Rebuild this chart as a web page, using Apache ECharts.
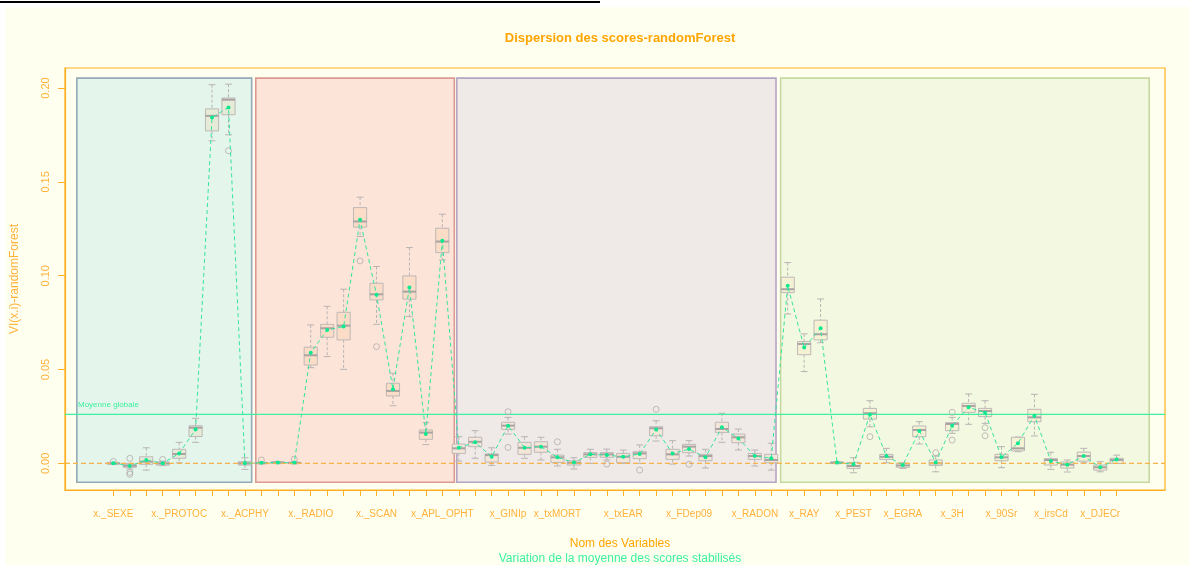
<!DOCTYPE html>
<html>
<head>
<meta charset="utf-8">
<script src="https://cdn.jsdelivr.net/npm/echarts@6/dist/echarts.min.js"></script>
<style>
html,body{margin:0;padding:0;background:#ffffff;}
#c{width:1189px;height:565px;}
</style>
</head>
<body>
<div id="c"></div>
<script>
// ---------- data ----------
const categories = ['x._SEXE','','','','x._PROTOC','','','','x._ACPHY','','','','x._RADIO','','','','x._SCAN','','','','x_APL_OPHT',
  '','','','x_GINIp','','','x_txMORT','','','','x_txEAR','','','','x_FDep09','','','','x_RADON','',
  '','x_RAY','','','x_PEST','','','x_EGRA','','','x_3H','','','x_90Sr','','','x_irsCd','','','x_DJECr',''];
const whiskLow = [-0.0005,-0.0030,-0.0036,-0.0012,0.0003,0.0112,0.1719,0.1751,-0.0032,
  -0.0003,-0.0002,-0.0003,0.0510,0.0569,0.0501,0.1209,0.0741,0.0307,0.0782,0.0100,0.1084,
  0.0012,0.0027,-0.0011,0.0156,0.0027,0.0018,-0.0014,-0.0030,0.0000,0.0018,0.0000,0.0000,0.0119,-0.0004,0.0039,-0.0025,0.0112,0.0071,-0.0014,-0.0036,
  0.0796,0.0489,0.0643,-0.0002,-0.0050,0.0195,0.0003,-0.0027,0.0103,-0.0045,0.0160,0.0208,0.0213,-0.0023,0.0062,0.0146,-0.0032,-0.0046,0.0003,-0.0045,0.0000];
const q1 = [-0.0003,-0.0021,-0.0005,-0.0009,0.0027,0.0143,0.1772,0.1858,-0.0009,
  -0.0002,0.0000,-0.0001,0.0524,0.0672,0.0658,0.1259,0.0871,0.0359,0.0875,0.0128,0.1123,
  0.0053,0.0089,0.0007,0.0181,0.0048,0.0059,0.0005,-0.0009,0.0032,0.0032,0.0003,0.0025,0.0147,0.0021,0.0057,0.0014,0.0165,0.0110,0.0021,0.0003,
  0.0910,0.0579,0.0658,0.0000,-0.0027,0.0236,0.0021,-0.0021,0.0142,-0.0011,0.0174,0.0272,0.0249,0.0014,0.0067,0.0222,-0.0009,-0.0025,0.0012,-0.0036,0.0000];
const median = [0.0000,-0.0013,0.0009,0.0000,0.0050,0.0190,0.1852,0.1938,0.0000,
  0.0002,0.0004,0.0002,0.0576,0.0720,0.0734,0.1289,0.0901,0.0386,0.0915,0.0164,0.1182,
  0.0080,0.0115,0.0044,0.0201,0.0083,0.0089,0.0032,0.0003,0.0048,0.0048,0.0035,0.0053,0.0187,0.0048,0.0089,0.0039,0.0183,0.0139,0.0039,0.0018,
  0.0928,0.0636,0.0688,0.0003,-0.0014,0.0267,0.0035,-0.0011,0.0178,0.0000,0.0210,0.0306,0.0279,0.0032,0.0080,0.0245,0.0018,-0.0007,0.0039,-0.0021,0.0018];
const q3 = [0.0002,-0.0005,0.0035,0.0007,0.0075,0.0200,0.1889,0.1947,0.0009,
  0.0005,0.0008,0.0006,0.0619,0.0741,0.0805,0.1363,0.0960,0.0427,0.0999,0.0178,0.1253,
  0.0103,0.0139,0.0050,0.0219,0.0112,0.0115,0.0044,0.0014,0.0057,0.0057,0.0053,0.0062,0.0195,0.0075,0.0101,0.0048,0.0219,0.0156,0.0053,0.0048,
  0.0992,0.0649,0.0763,0.0007,0.0005,0.0293,0.0048,0.0000,0.0199,0.0018,0.0217,0.0320,0.0293,0.0048,0.0139,0.0288,0.0025,0.0007,0.0060,-0.0009,0.0027];
const whiskHigh = [0.0006,0.0000,0.0083,0.0012,0.0112,0.0240,0.2018,0.2021,0.0030,
  0.0007,0.0010,0.0008,0.0738,0.0837,0.0928,0.1419,0.1049,0.0480,0.1150,0.0217,0.1328,
  0.0142,0.0174,0.0083,0.0245,0.0142,0.0139,0.0075,0.0030,0.0075,0.0076,0.0071,0.0098,0.0227,0.0121,0.0121,0.0075,0.0267,0.0183,0.0071,0.0107,
  0.1070,0.0690,0.0876,0.0009,0.0030,0.0334,0.0080,0.0003,0.0222,0.0039,0.0245,0.0370,0.0334,0.0089,0.0140,0.0368,0.0059,0.0018,0.0080,0.0009,0.0044];
const means = [0.0001,-0.0014,0.0018,0.0000,0.0053,0.0181,0.1843,0.1897,0.0000,
  0.0003,0.0004,0.0004,0.0590,0.0711,0.0729,0.1298,0.0898,0.0395,0.0937,0.0156,0.1186,
  0.0083,0.0112,0.0035,0.0201,0.0083,0.0089,0.0032,0.0005,0.0048,0.0044,0.0035,0.0050,0.0181,0.0053,0.0076,0.0032,0.0192,0.0133,0.0039,0.0027,
  0.0946,0.0617,0.0720,0.0005,-0.0005,0.0261,0.0039,-0.0009,0.0172,0.0005,0.0201,0.0299,0.0270,0.0032,0.0107,0.0254,0.0012,-0.0007,0.0039,-0.0021,0.0021];
const outlierIdx = [0,1,1,1,3,7,9,11,15,16,24,24,27,30,32,33,35,46,50,51,51,53,53];
const outlierVal = [0.0010,0.0027,-0.0048,-0.0058,0.0021,0.1666,0.0018,0.0022,0.1079,0.0622,0.0275,0.0085,0.0115,-0.0004,-0.0036,0.0288,-0.0005,0.0142,0.0057,0.0272,0.0124,0.0190,0.0147];
const groupFirst = [0, 9, 21, 41];
const groupLast = [8, 20, 40, 61];
const groupX0 = [-2.22, 8.66, 20.88, 40.57];
const groupX1 = [8.41, 20.73, 40.29, 62.98];
const groupY0 = -0.0101, groupY1 = 0.2053;
const globalMean = 0.0261;
const yTicks = [0, 0.05, 0.10, 0.15, 0.20];

// ---------- styles ----------
const groupBg = ['#e4f5ec', '#fde4d8', '#efe9e7', '#f3f8e0'];
const groupBorder = ['#94a9b9', '#dc9a90', '#b5a5c4', '#c6d9a2'];
const boxFill = ['#e6ebd8', '#fbdcc7', '#f3e5d8', '#f5f2d3'];
const ORANGE = '#ffa500';
const LABEL_OR = '#ffb13a';
const GREEN = '#3cf0a0';
const FONT = '"Liberation Sans", Arial, sans-serif';

const ticksX = categories.map((_, i) => i);
const labelX = categories.map((c, i) => c ? i : -1).filter(i => i >= 0);
function groupOf(i){ for (let g = 0; g < groupFirst.length; g++) if (i >= groupFirst[g] && i <= groupLast[g]) return g; return 0; }

const boxData = categories.map((_, i) => [i, whiskLow[i], q1[i], median[i], q3[i], whiskHigh[i], groupOf(i)]);
const rectData = groupX0.map((x0, g) => [x0, groupX1[g], groupY0, groupY1, g]);
const outData = outlierIdx.map((i, k) => [i, outlierVal[k]]);
const meanData = means.map((m, i) => [i, m]);

const chart = echarts.init(document.getElementById('c'), null, {renderer: 'canvas'});
chart.setOption({
  backgroundColor: '#ffffff',
  animation: false,
  textStyle: {fontFamily: FONT},
  graphic: [
    {type: 'rect', z: -100, silent: true, shape: {x: 5, y: 7, width: 1184, height: 558}, style: {fill: '#fffff0'}},
    {type: 'rect', z: -90, silent: true, shape: {x: 0, y: 1, width: 600, height: 2}, style: {fill: '#000000'}}
  ],
  title: [
    {text: 'Dispersion des scores-randomForest', left: 615, top: 27, textAlign: 'center',
     textStyle: {color: ORANGE, fontSize: 13, fontWeight: 'bold', fontFamily: FONT}},
    {text: 'Nom des Variables', left: 615, top: 533, textAlign: 'center',
     textStyle: {color: ORANGE, fontSize: 12, fontWeight: 'normal', fontFamily: FONT}},
    {text: 'Variation de la moyenne des scores stabilisés', left: 615, top: 548, textAlign: 'center',
     textStyle: {color: GREEN, fontSize: 12, fontWeight: 'normal', fontFamily: FONT}}
  ],
  grid: {left: 65, right: 24, top: 68, bottom: 75, show: true, borderColor: '#ffb020', borderWidth: 1.2, backgroundColor: 'transparent'},
  xAxis: {
    type: 'value', min: -2.94, max: 63.94,
    axisLine: {show: true, onZero: false, lineStyle: {color: '#ffb020', width: 1.2}},
    axisTick: {show: true, customValues: ticksX, length: 6, inside: false, lineStyle: {color: '#ffb020'}},
    axisLabel: {show: true, customValues: labelX, margin: 19, color: LABEL_OR, fontSize: 10, fontFamily: FONT,
      formatter: v => categories[Math.round(v)] || ''},
    splitLine: {show: false}
  },
  yAxis: {
    type: 'value', min: -0.0142, max: 0.2107,
    name: 'VI(x.i)-randomForest', nameLocation: 'middle', nameGap: 44, nameRotate: 90,
    nameTextStyle: {color: LABEL_OR, fontSize: 12, fontFamily: FONT},
    axisLine: {show: true, onZero: false, lineStyle: {color: '#ffb020', width: 1.2}},
    axisTick: {show: true, customValues: yTicks, length: 7, lineStyle: {color: '#ffb020'}},
    axisLabel: {show: true, customValues: yTicks, rotate: 90, margin: 14, color: LABEL_OR, fontSize: 11, fontFamily: FONT,
      formatter: v => v.toFixed(2)},
    splitLine: {show: false}
  },
  series: [
    {
      type: 'custom', name: 'groups', z: 1, silent: true,
      data: rectData, encode: {x: [0, 1], y: [2, 3]},
      renderItem: (params, api) => {
        const p0 = api.coord([api.value(0), api.value(3)]);
        const p1 = api.coord([api.value(1), api.value(2)]);
        const g = api.value(4);
        return {type: 'rect', shape: {x: p0[0], y: p0[1], width: p1[0] - p0[0], height: p1[1] - p0[1]},
          style: {fill: groupBg[g], stroke: groupBorder[g], lineWidth: 1.6}};
      }
    },
    {
      type: 'custom', name: 'boxes', z: 4, silent: true,
      data: boxData, encode: {x: 0, y: [1, 5]},
      renderItem: (params, api) => {
        const x = api.value(0);
        const lo = api.coord([x, api.value(1)]);
        const b1 = api.coord([x, api.value(2)]);
        const md = api.coord([x, api.value(3)]);
        const b3 = api.coord([x, api.value(4)]);
        const hi = api.coord([x, api.value(5)]);
        const unit = api.size([1, 0])[0];
        const bw = unit * 0.8, cw = unit * 0.42;
        const cx = lo[0];
        const g = api.value(6);
        const wStyle = {stroke: '#b9b4b4', lineWidth: 1, lineDash: [3, 2]};
        const cStyle = {stroke: '#b9b4b4', lineWidth: 1};
        return {type: 'group', children: [
          {type: 'line', shape: {x1: cx, y1: hi[1], x2: cx, y2: b3[1]}, style: wStyle},
          {type: 'line', shape: {x1: cx, y1: b1[1], x2: cx, y2: lo[1]}, style: wStyle},
          {type: 'line', shape: {x1: cx - cw / 2, y1: hi[1], x2: cx + cw / 2, y2: hi[1]}, style: cStyle},
          {type: 'line', shape: {x1: cx - cw / 2, y1: lo[1], x2: cx + cw / 2, y2: lo[1]}, style: cStyle},
          {type: 'rect', shape: {x: cx - bw / 2, y: b3[1], width: bw, height: Math.max(b1[1] - b3[1], 1)},
            style: {fill: boxFill[g], stroke: '#bdb8b8', lineWidth: 1}},
          {type: 'line', shape: {x1: cx - bw / 2, y1: md[1], x2: cx + bw / 2, y2: md[1]}, style: {stroke: '#aaa3a3', lineWidth: 2}}
        ]};
      }
    },
    {
      type: 'custom', name: 'zero', z: 5, silent: true,
      data: [[0, 0]], encode: {x: 0, y: 1},
      renderItem: (params, api) => {
        const cs = params.coordSys;
        const p = api.coord([0, api.value(1)]);
        return {type: 'line', shape: {x1: cs.x, y1: p[1], x2: cs.x + cs.width, y2: p[1]},
          style: {stroke: '#f8b448', lineWidth: 1.2, lineDash: [5, 3]}};
      }
    },
    {
      type: 'custom', name: 'globalMean', z: 5, silent: true,
      data: [[0, globalMean]], encode: {x: 0, y: 1},
      renderItem: (params, api) => {
        const cs = params.coordSys;
        const p = api.coord([0, api.value(1)]);
        return {type: 'group', children: [
          {type: 'line', shape: {x1: cs.x, y1: p[1], x2: cs.x + cs.width, y2: p[1]}, style: {stroke: '#3ef0a0', lineWidth: 1.2}},
          {type: 'text', style: {text: 'Moyenne globale', x: cs.x + 13, y: p[1] - 6, fill: GREEN, fontSize: 8,
            fontFamily: FONT, verticalAlign: 'bottom'}}
        ]};
      }
    },
    {
      type: 'scatter', name: 'outliers', z: 6, silent: true,
      data: outData, symbol: 'circle', symbolSize: 6,
      itemStyle: {color: 'rgba(0,0,0,0)', borderColor: '#b3acac', borderWidth: 1}
    },
    {
      type: 'line', name: 'means', z: 7, silent: true,
      data: meanData, symbol: 'circle', symbolSize: 4, showSymbol: true,
      lineStyle: {color: '#36e49c', width: 1, type: [4, 3]},
      itemStyle: {color: '#10e890', borderWidth: 0}
    }
  ]
});
</script>
</body>
</html>
